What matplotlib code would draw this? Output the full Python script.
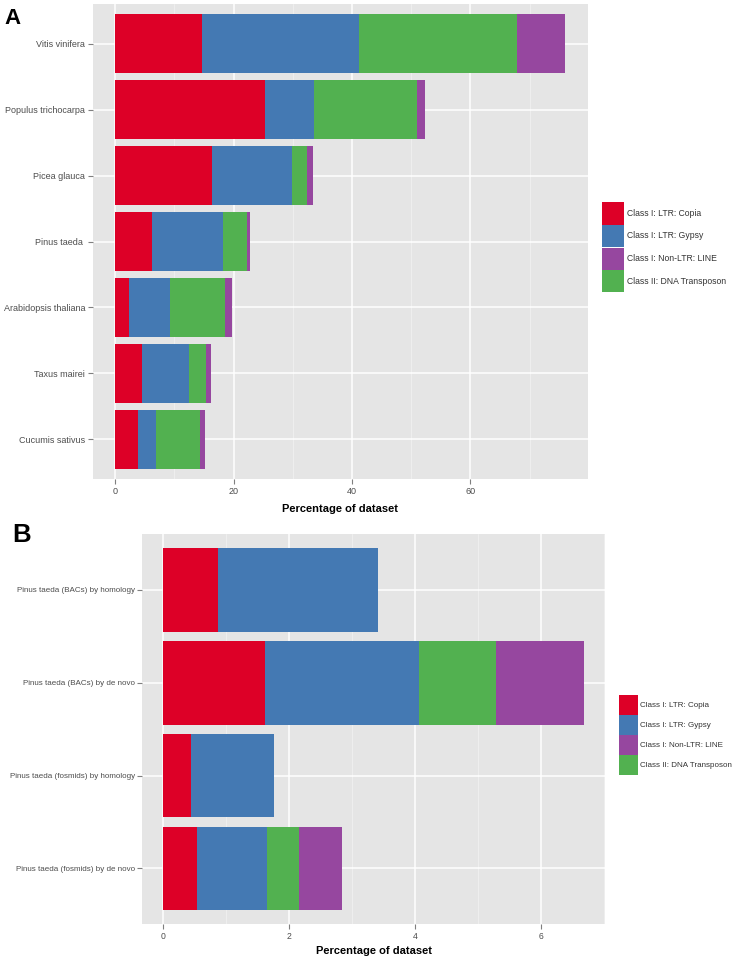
import matplotlib
matplotlib.use("Agg")
import matplotlib.pyplot as plt
from matplotlib.patches import Patch
import numpy as np

plt.rcParams['font.family'] = ['Liberation Sans', 'DejaVu Sans']

# panel A data (percent of dataset per class)
species = ["Vitis vinifera", "Populus trichocarpa", "Picea glauca", "Pinus taeda ",
           "Arabidopsis thaliana", "Taxus mairei", "Cucumis sativus"]
a_copia = [14.6, 25.3, 16.3, 6.2, 2.3, 4.5, 3.9]
a_gypsy = [26.6, 8.3, 13.6, 12.0, 6.9, 8.0, 3.0]
a_dna = [26.6, 17.3, 2.5, 4.0, 9.4, 2.9, 7.5]
a_line = [8.2, 1.5, 1.0, 0.5, 1.1, 0.8, 0.8]
a_ticks = [0, 20, 40, 60]

# panel B data
datasets = ["Pinus taeda (BACs) by homology", "Pinus taeda (BACs) by de novo",
            "Pinus taeda (fosmids) by homology", "Pinus taeda (fosmids) by de novo"]
b_copia = [0.87, 1.61, 0.44, 0.53]
b_gypsy = [2.54, 2.45, 1.32, 1.12]
b_dna = [0.0, 1.22, 0.0, 0.51]
b_line = [0.0, 1.40, 0.0, 0.68]
b_ticks = [0, 2, 4, 6]

class_names = ["Class I: LTR: Copia", "Class I: LTR: Gypsy",
               "Class I: Non-LTR: LINE", "Class II: DNA Transposon"]
colors = {"copia": "#DD0027", "gypsy": "#4479B3", "line": "#96479F", "dna": "#52B150"}

W, H = 738, 960
fig = plt.figure(figsize=(W / 100, H / 100), dpi=100)


def px_axes(left, top, right, bottom):
    return fig.add_axes([left / W, 1 - bottom / H, (right - left) / W, (bottom - top) / H])


def draw_panel(ax, labels, copia, gypsy, dna, line, ticks, minor, yfs, xfs, lpad):
    y = np.arange(1, len(labels) + 1)
    left = np.zeros(len(labels))
    # stacking order in the bars: copia, gypsy, dna, line
    for vals, key in [(copia, "copia"), (gypsy, "gypsy"), (dna, "dna"), (line, "line")]:
        vals = np.array(vals)
        ax.barh(y, vals, left=left, height=0.9, color=colors[key], linewidth=0)
        left = left + vals
    top = left.max()
    ax.set_xlim(-0.05 * top, top * 1.05)
    ax.set_ylim(len(labels) + 0.6, 0.4)
    ax.set_yticks(y)
    ax.set_yticklabels(labels)
    ax.set_xticks(ticks)
    ax.set_xticks(minor, minor=True)
    ax.set_facecolor("#E5E5E5")
    ax.set_axisbelow(True)
    ax.grid(which="major", color="white", linewidth=1.1)
    ax.grid(which="minor", axis="x", color="#F2F2F2", linewidth=0.5)
    for s in ax.spines.values():
        s.set_visible(False)
    ax.tick_params(which="major", length=3.5, width=0.8, color="#7F7F7F",
                   labelcolor="#4D4D4D", pad=2)
    ax.tick_params(axis="y", labelsize=yfs)
    ax.tick_params(axis="x", labelsize=xfs)
    ax.tick_params(which="minor", length=0)
    ax.set_xlabel("Percentage of dataset", fontsize=8, fontweight="bold", labelpad=lpad)


def add_legend(x, y, fs, kw, kh):
    order = ["copia", "gypsy", "line", "dna"]
    handles = [Patch(facecolor=colors[k], edgecolor="none") for k in order]
    em = fs * 100 / 72
    # matplotlib draws the key at fontsize*(0.65*handleheight + 0.245)
    hh = (kh / em - 0.245) / 0.65
    fig.legend(handles, class_names, loc="upper left", bbox_to_anchor=(x / W, 1 - y / H),
               frameon=False, fontsize=fs, borderpad=0, borderaxespad=0,
               handlelength=kw / em, handleheight=hh, labelspacing=0.05,
               handletextpad=0.3, labelcolor="#333333")


axA = px_axes(92.7, 4, 587.7, 479)
draw_panel(axA, species, a_copia, a_gypsy, a_dna, a_line, a_ticks, [10, 30, 50, 70],
           6.5, 6.5, 6)
add_legend(602.3, 202.3, 6.2, 22, 22.2)

axB = px_axes(142.3, 534.3, 605, 924)
draw_panel(axB, datasets, b_copia, b_gypsy, b_dna, b_line, b_ticks, [1, 3, 5, 7],
           5.8, 6.2, 4)
add_legend(619, 695, 5.8, 19, 19.6)

fig.text(4 / W, 1 - 24 / H, "A", fontsize=16, fontweight="bold", ha="left", va="baseline")
fig.text(12.5 / W, 1 - 542 / H, "B", fontsize=18.5, fontweight="bold", ha="left", va="baseline")

fig.savefig("out.png", dpi=100)
